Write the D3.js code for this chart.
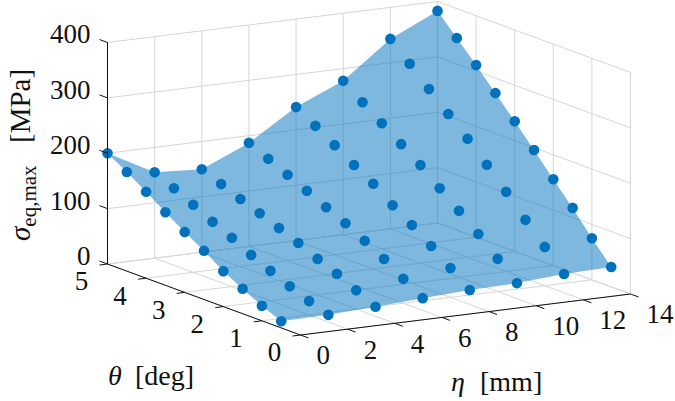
<!DOCTYPE html>
<head>
  <meta charset="utf-8">
  <script src="https://d3js.org/d3.v7.min.js"></script>
  <style>
  body,html {background:white;margin:0;padding:0;overflow:hidden}
  text {font-family:"Liberation Serif",serif;fill:#111}
  .grid {stroke:#d6d6d6;stroke-width:1;fill:none}
  .axis {stroke:#111;stroke-width:1;fill:none}
  </style>
</head>
<body>
<svg id="chart" width="675" height="401"></svg>
<script>
  // grid of the surface
  const etaValues = [0, 2, 4, 6, 8, 10, 12, 14];
  const thetaValues = [5, 4.5, 4, 3.5, 3, 2.5, 2, 1.5, 1, 0.5];

  // sigma_eq,max per eta, same order as thetaValues
  const sigmaEta0 = [200, 179, 156, 132, 109, 88, 64, 45, 27, 12];
  const sigmaEta2 = [155, 139, 122, 104, 88, 70, 54, 39, 25, 13];
  const sigmaEta4 = [150, 136, 122, 109, 95, 81, 65, 51, 34, 17];
  const sigmaEta6 = [187, 171, 155, 139, 122, 106, 87, 67, 44, 22];
  const sigmaEta8 = [241, 220, 198, 175, 154, 128, 105, 80, 53, 26];
  const sigmaEta10 = [278, 252, 227, 202, 177, 148, 120, 91, 59, 28];
  const sigmaEta12 = [343, 311, 278, 246, 214, 180, 144, 106, 70, 34];
  const sigmaEta14 = [383, 347, 311, 273, 235, 196, 156, 117, 75, 36];
  const sigma = [sigmaEta0, sigmaEta2, sigmaEta4, sigmaEta6, sigmaEta8, sigmaEta10, sigmaEta12, sigmaEta14];

  const etaTicks = [0, 2, 4, 6, 8, 10, 12, 14];
  const thetaTicks = [0, 1, 2, 3, 4, 5];
  const zTicks = [0, 100, 200, 300, 400];

  const BLUE = "#0072BD";
  const FONT = 27;
  const LABEL_FONT = 28;
  const TICK = 8;

  // oblique projection, each data axis gets a screen vector
  const etaX = d3.scaleLinear().domain([0, 14]).range([0, 330]);
  const etaY = d3.scaleLinear().domain([0, 14]).range([0, -41]);
  const thetaX = d3.scaleLinear().domain([0, 5]).range([0, -193]);
  const thetaY = d3.scaleLinear().domain([0, 5]).range([0, -71]);
  const zY = d3.scaleLinear().domain([0, 400]).range([0, -221.5]);
  const X0 = 300.5, Y0 = 335;

  function project(eta, theta, z) {
    return [X0 + etaX(eta) + thetaX(theta), Y0 + etaY(eta) + thetaY(theta) + zY(z)];
  }

  const svg = d3.select("#chart");
  const line = d3.line();

  function seg(g, cls, a, b) {
    g.append("path").attr("class", cls).attr("d", line([a, b]));
  }

  // walls and floor
  const grid = svg.append("g");
  etaTicks.forEach(e => {
    seg(grid, "grid", project(e, 0, 0), project(e, 5, 0));
    seg(grid, "grid", project(e, 5, 0), project(e, 5, 400));
  });
  thetaTicks.forEach(t => {
    seg(grid, "grid", project(0, t, 0), project(14, t, 0));
    seg(grid, "grid", project(14, t, 0), project(14, t, 400));
  });
  zTicks.forEach(z => {
    seg(grid, "grid", project(0, 5, z), project(14, 5, z));
    seg(grid, "grid", project(14, 5, z), project(14, 0, z));
  });

  // surface outline, walked round the four edges of the mesh
  const last = thetaValues.length - 1;
  const outline = [];
  etaValues.forEach((e, i) => outline.push(project(e, thetaValues[0], sigma[i][0])));
  thetaValues.forEach((t, j) => outline.push(project(14, t, sigmaEta14[j])));
  etaValues.slice().reverse().forEach((e, i) => outline.push(project(e, thetaValues[last], sigma[etaValues.length - 1 - i][last])));
  thetaValues.slice().reverse().forEach((t, j) => outline.push(project(0, t, sigmaEta0[last - j])));

  svg.append("path")
    .attr("d", line(outline) + "Z")
    .attr("fill", BLUE)
    .attr("fill-opacity", 0.5);

  // dots
  const pts = [];
  etaValues.forEach((e, i) => thetaValues.forEach((t, j) => pts.push(project(e, t, sigma[i][j]))));
  svg.append("g").selectAll("circle")
    .data(pts)
    .enter()
    .append("circle")
    .attr("cx", d => d[0])
    .attr("cy", d => d[1])
    .attr("r", 5.3)
    .attr("fill", BLUE);

  // axes
  const ax = svg.append("g");
  seg(ax, "axis", project(0, 5, 0), project(0, 5, 400));
  seg(ax, "axis", project(0, 5, 0), project(0, 0, 0));
  seg(ax, "axis", project(0, 0, 0), project(14, 0, 0));

  zTicks.forEach(z => {
    const p = project(0, 5, z);
    seg(ax, "axis", p, [p[0] - TICK, p[1] - TICK * 0.37]);
    ax.append("text").attr("x", p[0] - 17).attr("y", p[1] - 8)
      .attr("dy", "0.33em").attr("text-anchor", "end").attr("font-size", FONT).text(z);
  });
  thetaTicks.forEach(t => {
    const p = project(0, t, 0);
    seg(ax, "axis", p, [p[0] - TICK, p[1] + TICK * 0.125]);
    ax.append("text").attr("x", p[0] - 26).attr("y", p[1] + 17.5)
      .attr("dy", "0.33em").attr("text-anchor", "middle").attr("font-size", FONT).text(t);
  });
  etaTicks.forEach(e => {
    const p = project(e, 0, 0);
    seg(ax, "axis", p, [p[0] + TICK, p[1] + TICK * 0.37]);
    ax.append("text").attr("x", p[0] + 16).attr("y", p[1] + 20.5)
      .attr("dy", "0.33em").attr("text-anchor", "start").attr("font-size", FONT).text(e);
  });

  // labels
  const zLabel = svg.append("text")
    .attr("transform", "translate(30,241) rotate(-90)")
    .attr("font-size", 29);
  zLabel.append("tspan").attr("font-style", "italic").text("σ");
  zLabel.append("tspan").attr("font-size", 21).attr("dy", 6).text("eq,max");
  zLabel.append("tspan").attr("dy", -6).attr("x", 98).text("[MPa]");

  const thetaLabel = svg.append("text").attr("y", 385).attr("font-size", LABEL_FONT);
  thetaLabel.append("tspan").attr("x", 108).attr("font-style", "italic").text("θ");
  thetaLabel.append("tspan").attr("x", 135).text("[deg]");

  const etaLabel = svg.append("text").attr("y", 391).attr("font-size", LABEL_FONT);
  etaLabel.append("tspan").attr("x", 451).attr("font-style", "italic").text("η");
  etaLabel.append("tspan").attr("x", 480).text("[mm]");
</script>
</body>
